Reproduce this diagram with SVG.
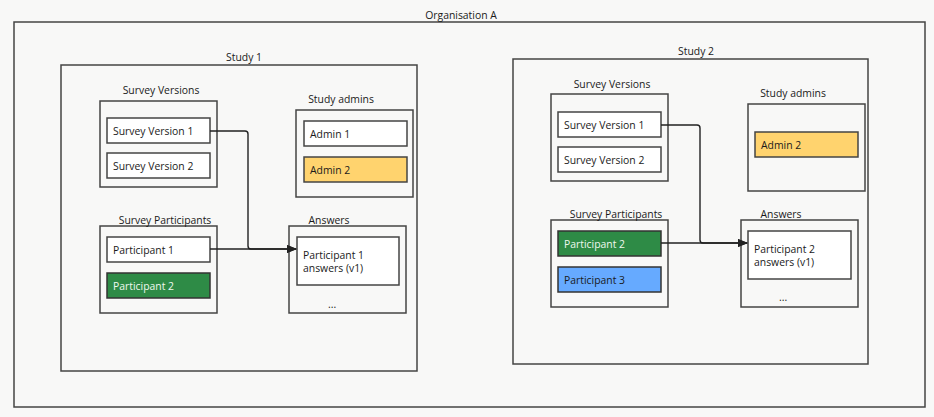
<svg xmlns="http://www.w3.org/2000/svg" width="934" height="417" viewBox="0 0 934 417">
<style>
text{font-family:"Open Sans","Noto Sans","DejaVu Sans",sans-serif;font-size:10.4px;fill:#1a1a1a}
.c{text-anchor:middle}
.box{fill:none;stroke:#444;stroke-width:1.5}
.item{fill:#fff;stroke:#444;stroke-width:1.5}
.yel{fill:#ffd36e;stroke:#444;stroke-width:1.5}
.grn{fill:#2e8b46;stroke:#333;stroke-width:1.5}
.blu{fill:#66aaff;stroke:#333;stroke-width:1.5}
.w{fill:#eef8ee}
.conn{fill:none;stroke:#222;stroke-width:1.4}
</style>
<defs>
<marker id="arr" markerWidth="10" markerHeight="10" refX="9" refY="5" orient="auto" markerUnits="userSpaceOnUse">
<path d="M0,1 L10,5 L0,9 Z" fill="#222"/>
</marker>
</defs>
<rect x="0" y="0" width="934" height="417" fill="#f8f8f7"/>
<g id="org">
<rect class="box" x="14" y="22" width="911" height="385"/>
<text class="c" x="461" y="19">Organisation A</text>
</g>
<g id="study1">
<rect class="box" x="61" y="65" width="356" height="306"/>
<text class="c" x="244" y="61">Study 1</text>
</g>
<g id="study2">
<rect class="box" x="513" y="59" width="355" height="305"/>
<text class="c" x="696" y="55">Study 2</text>
</g>
<g id="s1-versions">
<rect class="box" x="100" y="101" width="117" height="86"/>
<text class="c" x="161" y="94">Survey Versions</text>
</g>
<g id="s1-sv1"><rect class="item" x="107" y="118" width="103" height="25"/><text x="113" y="135">Survey Version 1</text></g>
<g id="s1-sv2"><rect class="item" x="107" y="153" width="103" height="25"/><text x="113" y="170">Survey Version 2</text></g>
<g id="s1-admins">
<rect class="box" x="296" y="110" width="117" height="87"/>
<text class="c" x="341" y="103">Study admins</text>
</g>
<g id="s1-admin1"><rect class="item" x="304" y="121" width="103" height="25"/><text x="310" y="138">Admin 1</text></g>
<g id="s1-admin2"><rect class="yel" x="304" y="157" width="103" height="25"/><text x="310" y="174">Admin 2</text></g>
<g id="s1-participants">
<rect class="box" x="100" y="226" width="117" height="87"/>
<text class="c" x="165" y="224">Survey Participants</text>
</g>
<g id="s1-p1"><rect class="item" x="107" y="237" width="103" height="25"/><text x="113" y="254">Participant 1</text></g>
<g id="s1-p2"><rect class="grn" x="107" y="273" width="103" height="25"/><text class="w" x="113" y="290">Participant 2</text></g>
<g id="s1-answers">
<rect class="box" x="289" y="226" width="117" height="87"/>
<text class="c" x="329" y="224">Answers</text>
<text x="328" y="308">...</text>
</g>
<g id="s1-ans1"><rect class="item" x="297" y="237" width="102" height="48"/><text x="303" y="259">Participant 1</text><text x="303" y="272">answers (v1)</text></g>
<g id="s2-versions">
<rect class="box" x="551" y="94" width="117" height="87"/>
<text class="c" x="612" y="88">Survey Versions</text>
</g>
<g id="s2-sv1"><rect class="item" x="558" y="112" width="103" height="25"/><text x="564" y="129">Survey Version 1</text></g>
<g id="s2-sv2"><rect class="item" x="558" y="147" width="103" height="25"/><text x="564" y="164">Survey Version 2</text></g>
<g id="s2-admins">
<rect class="box" x="748" y="104" width="117" height="87"/>
<text class="c" x="793" y="97">Study admins</text>
</g>
<g id="s2-admin2"><rect class="yel" x="755" y="132" width="103" height="25"/><text x="761" y="149">Admin 2</text></g>
<g id="s2-participants">
<rect class="box" x="551" y="220" width="117" height="87"/>
<text class="c" x="616" y="218">Survey Participants</text>
</g>
<g id="s2-p2"><rect class="grn" x="558" y="231" width="103" height="25"/><text class="w" x="564" y="248">Participant 2</text></g>
<g id="s2-p3"><rect class="blu" x="558" y="267" width="103" height="25"/><text x="564" y="284">Participant 3</text></g>
<g id="s2-answers">
<rect class="box" x="741" y="220" width="117" height="87"/>
<text class="c" x="781" y="218">Answers</text>
<text x="779" y="301">...</text>
</g>
<g id="s2-ans1"><rect class="item" x="748" y="231" width="103" height="48"/><text x="754" y="253">Participant 2</text><text x="754" y="266">answers (v1)</text></g>
<g id="connectors">
<path class="conn" d="M210,131 H245 Q248,131 248,134 V246 Q248,249 251,249 H296" marker-end="url(#arr)"/>
<path class="conn" d="M210,249 H296" marker-end="url(#arr)"/>
<path class="conn" d="M661,125 H697 Q700,125 700,128 V240 Q700,243 703,243 H747" marker-end="url(#arr)"/>
<path class="conn" d="M661,243 H747" marker-end="url(#arr)"/>
</g>
</svg>
